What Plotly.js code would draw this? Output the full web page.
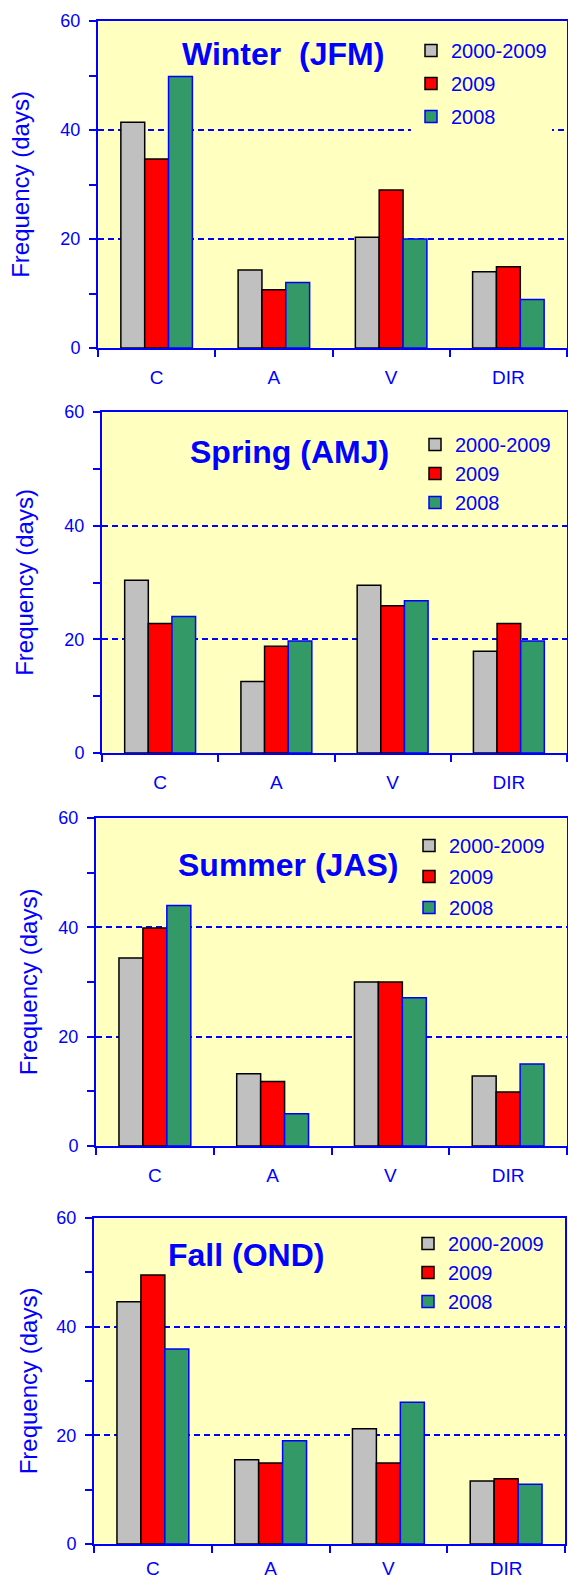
<!DOCTYPE html>
<html><head><meta charset="utf-8">
<script src="https://cdn.plot.ly/plotly-3.0.1.min.js"></script>
<style>html,body{margin:0;padding:0;background:#fff}#chart{width:568px;height:1582px}</style>
</head><body><div id="chart"></div>
<script>
const categories = ['C', 'A', 'V', 'DIR'];
const seriesNames = ['2000-2009', '2009', '2008'];
const panelTitles = ['Winter\u00A0 (JFM)', 'Spring (AMJ)', 'Summer (JAS)', 'Fall (OND)'];
const yTickVals = [0, 20, 40, 60];
const yTitle = 'Frequency (days)';

const winter_2000_2009 = [41.4, 14.3, 20.3, 14.0];
const winter_2009      = [34.7, 10.7, 29.0, 14.9];
const winter_2008      = [49.8, 12.0, 20.0, 8.9];
const spring_2000_2009 = [30.4, 12.6, 29.5, 17.9];
const spring_2009      = [22.8, 18.8, 25.9, 22.8];
const spring_2008      = [24.0, 19.7, 26.8, 19.7];
const summer_2000_2009 = [34.4, 13.2, 30.0, 12.8];
const summer_2009      = [39.9, 11.8, 30.0, 9.9];
const summer_2008      = [44.0, 5.9, 27.1, 15.0];
const fall_2000_2009   = [44.6, 15.5, 21.2, 11.6];
const fall_2009        = [49.5, 14.9, 14.9, 12.0];
const fall_2008        = [35.9, 19.0, 26.1, 11.0];

const seasonData = [
  [winter_2000_2009, winter_2009, winter_2008],
  [spring_2000_2009, spring_2009, spring_2008],
  [summer_2000_2009, summer_2009, summer_2008],
  [fall_2000_2009, fall_2009, fall_2008]
];

const W = 568, H = 1582;
const BLUE = '#0000FF';
const FONT = 'Liberation Sans, Arial, sans-serif';
const barFill = ['#C0C0C0', '#FF0000', '#339966'];
const barEdge = ['#000000', '#000000', '#0000FF'];

// layout geometry (pixels)
const geom = [
  {px: [98, 567], py: [21, 348],   tx: 283, ty: 54,   lx: 411, ly: 31,   gap: 4, so: 24, xso: 11, lbg: 'rgba(255,255,192,1)'},
  {px: [102, 567], py: [412, 753], tx: 289, ty: 452,  lx: 415, ly: 425,  gap: 0, so: 24, xso: 11, lbg: 'rgba(0,0,0,0)'},
  {px: [96, 567], py: [818, 1146], tx: 288, ty: 865,  lx: 409, ly: 826,  gap: 2, so: 14, xso: 11, lbg: 'rgba(0,0,0,0)'},
  {px: [94, 565], py: [1218, 1544], tx: 246, ty: 1255, lx: 408, ly: 1224, gap: 0, so: 12, xso: 6, lbg: 'rgba(0,0,0,0)'}
];

const traces = [];
const layout = {
  width: W, height: H,
  margin: {l: 0, r: 0, t: 0, b: 0},
  paper_bgcolor: '#FFFFFF',
  plot_bgcolor: '#FFFFC0',
  barmode: 'group',
  bargap: 0.39,
  bargroupgap: 0,
  font: {family: FONT, color: BLUE},
  annotations: []
};

geom.forEach((g, i) => {
  const s = i === 0 ? '' : String(i + 1);
  seasonData[i].forEach((vals, k) => {
    traces.push({
      type: 'bar',
      x: categories,
      y: vals,
      name: seriesNames[k],
      xaxis: 'x' + s,
      yaxis: 'y' + s,
      legend: 'legend' + s,
      legendgroup: 'p' + i + 's' + k,
      marker: {color: barFill[k], line: {color: barEdge[k], width: 1.5}},
      hoverinfo: 'x+y+name'
    });
  });
  layout['xaxis' + s] = {
    domain: [g.px[0] / W, g.px[1] / W],
    anchor: 'y' + s,
    type: 'category',
    tickson: 'boundaries',
    ticks: 'outside', ticklen: 7, tickwidth: 2, tickcolor: BLUE,
    showline: true, linecolor: BLUE, linewidth: 2, mirror: true,
    showgrid: false, zeroline: false,
    tickfont: {family: FONT, size: 19, color: BLUE},
    ticklabelstandoff: g.xso,
    fixedrange: true
  };
  layout['yaxis' + s] = {
    domain: [1 - g.py[1] / H, 1 - g.py[0] / H],
    anchor: 'x' + s,
    range: [0, 60],
    tickvals: yTickVals,
    ticks: 'outside', ticklen: 7, tickwidth: 2, tickcolor: BLUE,
    showline: true, linecolor: BLUE, linewidth: 2, mirror: true,
    showgrid: true, gridcolor: BLUE, gridwidth: 1.5, griddash: '6px,4px',
    zeroline: false,
    minor: {dtick: 10, tick0: 0, ticks: 'outside', ticklen: 7, tickwidth: 2, tickcolor: BLUE, showgrid: false},
    tickfont: {family: FONT, size: 18, color: BLUE},
    ticklabelstandoff: 5,
    title: {text: yTitle, font: {family: FONT, size: 24, color: BLUE}, standoff: g.so},
    fixedrange: true
  };
  layout['legend' + s] = {
    x: g.lx / W, y: 1 - g.ly / H, xanchor: 'left', yanchor: 'top',
    bgcolor: g.lbg,
    borderwidth: 0,
    traceorder: 'grouped',
    tracegroupgap: g.gap,
    font: {family: FONT, size: 20, color: BLUE}
  };
  layout.annotations.push({
    text: panelTitles[i],
    xref: 'paper', yref: 'paper',
    x: g.tx / W, y: 1 - g.ty / H,
    xanchor: 'center', yanchor: 'middle',
    showarrow: false,
    font: {family: FONT, size: 32, color: BLUE, weight: 'bold'}
  });
});

Plotly.newPlot('chart', traces, layout, {displayModeBar: false, staticPlot: false});
</script>
</body></html>
